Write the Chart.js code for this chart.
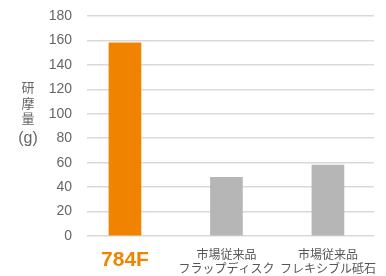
<!DOCTYPE html>
<html>
<head>
<meta charset="utf-8">
<script src="https://cdn.jsdelivr.net/npm/chart.js@4"></script>
<style>
  body { margin: 0; background: #fff; }
  #wrap { position: relative; width: 386px; height: 276px; }
  #ytitle {
    position: absolute; left: 14px; top: 79px; width: 28px;
    font-family: 'Noto Sans CJK JP', sans-serif; font-size: 13px; line-height: 15.5px;
    color: #666; text-align: center;
  }
  #ytitle .unit { font-family: 'Liberation Sans', sans-serif; font-size: 16px; line-height: 18px; margin-top: 3px; }
</style>
</head>
<body>
<div id="wrap">
  <canvas id="myChart"></canvas>
  <div id="ytitle"><div>研</div><div>摩</div><div>量</div><div class="unit">(g)</div></div>
</div>
<script>
const categories = [['784F'], ['市場従来品', 'フラップディスク'], ['市場従来品', 'フレキシブル砥石']];
const amounts = [158, 48, 58];
const yTicks = [0, 20, 40, 60, 80, 100, 120, 140, 160, 180];
const barColors = ['#f08300', '#b5b6b5', '#b5b6b5'];

const fontFamily = "'Liberation Sans', 'Noto Sans CJK JP', sans-serif";

const ctx = document.getElementById('myChart');
new Chart(ctx, {
  type: 'bar',
  data: {
    datasets: [{
      data: amounts.map((v, i) => ({ x: i, y: v })),
      backgroundColor: barColors,
      barThickness: 32
    }]
  },
  options: {
    responsive: true,
    maintainAspectRatio: false,
    animation: false,
    layout: { padding: { top: 16, right: 12, left: 0, bottom: 0 } },
    plugins: { legend: { display: false }, tooltip: { enabled: false } },
    scales: {
      x: {
        type: 'linear',
        offset: false,
        min: -0.374,
        max: 2.454,
        grid: { display: false },
        border: { display: false },
        afterBuildTicks: axis => { axis.ticks = categories.map((c, i) => ({ value: i })); },
        afterFit: axis => { axis.height = 40; },
        ticks: {
          padding: 4,
          maxRotation: 0,
          autoSkip: false,
          callback: v => categories[v],
          color: c => c.index === 0 ? '#f08300' : '#555',
          font: c => c.index === 0
            ? { family: fontFamily, size: 21, weight: 'bold' }
            : { family: fontFamily, size: 12 }
        }
      },
      y: {
        min: 0,
        max: 180,
        afterBuildTicks: axis => { axis.ticks = yTicks.map(v => ({ value: v })); },
        afterFit: axis => {
          axis.width = 87;
          // tick padding would otherwise push the plot top down
          axis.paddingTop = 0;
          axis.paddingBottom = 0;
        },
        border: { display: false },
        grid: { color: '#d9d9d9', lineWidth: 1.5, drawTicks: false },
        ticks: {
          padding: 15,
          color: '#666',
          font: { family: fontFamily, size: 14 }
        }
      }
    }
  }
});
</script>
</body>
</html>
